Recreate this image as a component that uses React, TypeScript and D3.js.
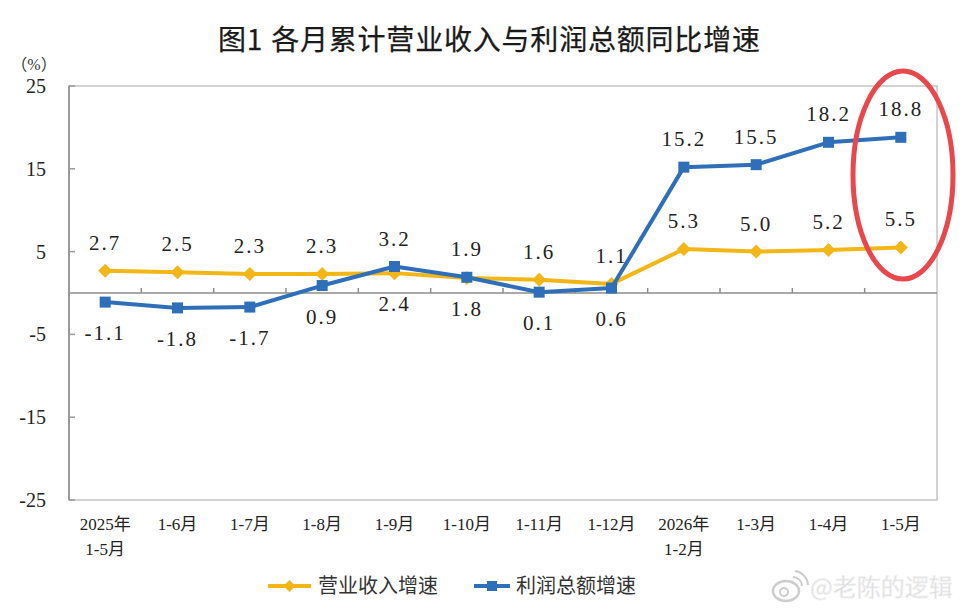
import React from "react";
import * as d3 from "d3";

const categories = [
  "2025年|1-5月", "1-6月", "1-7月", "1-8月", "1-9月", "1-10月",
  "1-11月", "1-12月", "2026年|1-2月", "1-3月", "1-4月", "1-5月",
];
const revenueGrowth = [2.7, 2.5, 2.3, 2.3, 2.4, 1.8, 1.6, 1.1, 5.3, 5.0, 5.2, 5.5];
const profitGrowth = [-1.1, -1.8, -1.7, 0.9, 3.2, 1.9, 0.1, 0.6, 15.2, 15.5, 18.2, 18.8];
// label side for each point: true = above, false = below
const revenueLabelAbove = [true, true, true, true, false, false, true, true, true, true, true, true];
const profitLabelAbove = [false, false, false, false, true, true, false, false, true, true, true, true];
const yTicks = [-25, -15, -5, 5, 15, 25];

const W = 970;
const H = 610;
const left = 69, right = 937, top = 86, bottom = 500;
const YELLOW = "#F3B617";
const BLUE = "#2F6FBA";
const NUM_FONT = "'Liberation Serif', 'Times New Roman', serif";
const CJK_FONT = "'Liberation Serif', 'Noto Sans CJK SC', serif";
const SANS_CJK = "'Noto Sans CJK SC', sans-serif";

export default function App() {
  const x = d3.scaleBand<string>().domain(categories).range([left, right]);
  const y = d3.scaleLinear().domain([-25, 25]).range([bottom, top]);
  const cx = (i: number) => (x(categories[i]) as number) + x.bandwidth() / 2;

  const line = d3
    .line<number>()
    .x((_, i) => cx(i))
    .y((d) => y(d));

  const diamond = (px: number, py: number, r: number) =>
    `M${px},${py - r}L${px + r},${py}L${px},${py + r}L${px - r},${py}Z`;

  const labels = (vals: number[], above: boolean[], key: string) =>
    vals.map((v, i) => (
      <text
        key={key + i}
        x={cx(i)}
        y={y(v) + (above[i] ? -21 : 38)}
        textAnchor="middle"
        fontFamily={NUM_FONT}
        fontSize={21}
        letterSpacing={2}
        fill="#222"
      >
        {v.toFixed(1)}
      </text>
    ));

  return (
    <svg width={W} height={H} style={{ position: "absolute", left: 0, top: 0, background: "#fff" }}>
      <rect x={0} y={0} width={W} height={H} fill="#fff" />
      {/* title */}
      <text
        x={218}
        y={50}
        fontFamily={SANS_CJK}
        fontWeight={400}
        fontSize={28}
        letterSpacing={0.8}
        fill="#1a1a1a"
        stroke="#1a1a1a"
        strokeWidth={0.25}
      >
        <tspan>图1</tspan>
        <tspan dx={8}>各月累计营业收入与利润总额同比增速</tspan>
      </text>

      {/* plot frame */}
      <rect x={left} y={top} width={right - left} height={bottom - top} fill="none" stroke="#c4c4c4" strokeWidth={1.5} />
      <line x1={left} x2={left} y1={top} y2={bottom} stroke="#9a9a9a" strokeWidth={2} />

      {/* y axis */}
      <text x={34} y={70} textAnchor="middle" fontFamily={CJK_FONT} fontSize={16} fill="#333">
        （%）
      </text>
      {yTicks.map((t) => (
        <g key={t}>
          <line x1={left} x2={left + 6} y1={y(t)} y2={y(t)} stroke="#9a9a9a" strokeWidth={1.5} />
          <text
            x={46}
            y={y(t) + 7}
            textAnchor="end"
            fontFamily={NUM_FONT}
            fontSize={20}
            fill="#222"
          >
            {t}
          </text>
        </g>
      ))}

      {/* zero line with category ticks */}
      <line x1={left} x2={right} y1={y(0)} y2={y(0)} stroke="#8c8c8c" strokeWidth={1.5} />
      {categories.slice(1).map((c) => (
        <line
          key={c}
          x1={x(c) as number}
          x2={x(c) as number}
          y1={y(0)}
          y2={y(0) - 5}
          stroke="#8c8c8c"
          strokeWidth={1.5}
        />
      ))}

      {/* x category labels */}
      {categories.map((c, i) => {
        const parts = c.split("|");
        return (
          <text
            key={c + i}
            textAnchor="middle"
            fontFamily={CJK_FONT}
            fontSize={17}
            fill="#222"
          >
            {parts.map((p, j) => (
              <tspan key={j} x={cx(i)} y={530 + j * 25}>
                {p}
              </tspan>
            ))}
          </text>
        );
      })}

      {/* series */}
      <path d={line(revenueGrowth) as string} fill="none" stroke={YELLOW} strokeWidth={4} strokeLinejoin="round" />
      {revenueGrowth.map((v, i) => (
        <path key={"rd" + i} d={diamond(cx(i), y(v), 7)} fill={YELLOW} />
      ))}
      <path d={line(profitGrowth) as string} fill="none" stroke={BLUE} strokeWidth={4} strokeLinejoin="round" />
      {profitGrowth.map((v, i) => (
        <rect key={"pm" + i} x={cx(i) - 5.5} y={y(v) - 5.5} width={11} height={11} fill={BLUE} />
      ))}

      {labels(revenueGrowth, revenueLabelAbove, "rl")}
      {labels(profitGrowth, profitLabelAbove, "pl")}

      {/* highlight ellipse */}
      <ellipse cx={903} cy={175} rx={50} ry={104} fill="none" stroke="#E8474C" strokeWidth={5} />

      {/* legend */}
      <line x1={268} x2={311} y1={586} y2={586} stroke={YELLOW} strokeWidth={4} />
      <path d={diamond(289.5, 586, 6)} fill={YELLOW} />
      <text x={318} y={593} fontFamily={SANS_CJK} fontSize={20} fill="#333">
        营业收入增速
      </text>
      <line x1={474} x2={510} y1={586} y2={586} stroke={BLUE} strokeWidth={4} />
      <rect x={487} y={581} width={10} height={10} fill={BLUE} />
      <text x={516} y={593} fontFamily={SANS_CJK} fontSize={20} fill="#333">
        利润总额增速
      </text>

      {/* watermark */}
      <g opacity={0.9}>
        <ellipse cx={786} cy={591} rx={13} ry={10} fill="none" stroke="#c8c8c8" strokeWidth={2.5} />
        <circle cx={784} cy={592} r={4} fill="none" stroke="#c8c8c8" strokeWidth={2} />
        <path d="M793,577 a9,9 0 0 1 9,9" fill="none" stroke="#c8c8c8" strokeWidth={2} />
        <path d="M795,571 a15,15 0 0 1 13,14" fill="none" stroke="#c8c8c8" strokeWidth={2} />
        <text
          x={810}
          y={596}
          fontFamily={SANS_CJK}
          fontSize={24}
          fill="#d2d2d2"
          stroke="#f2f2f2"
          strokeWidth={0.8}
        >
          @老陈的逻辑
        </text>
      </g>
    </svg>
  );
}
